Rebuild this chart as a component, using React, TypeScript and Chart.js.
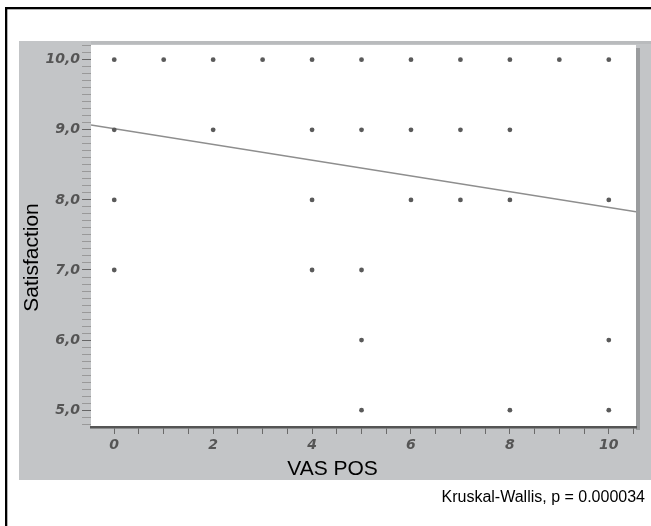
import React, { useEffect, useRef } from 'react';
import { Chart, registerables } from 'chart.js';

Chart.register(...registerables);

// ---- data ----
const vasPos = [
  0, 1, 2, 3, 4, 5, 6, 7, 8, 9, 10,
  0, 2, 4, 5, 6, 7, 8,
  0, 4, 6, 7, 8, 10,
  0, 4, 5,
  5, 10,
  5, 8, 10,
];
const satisfaction = [
  10, 10, 10, 10, 10, 10, 10, 10, 10, 10, 10,
  9, 9, 9, 9, 9, 9, 9,
  8, 8, 8, 8, 8, 8,
  7, 7, 7,
  6, 6,
  5, 5, 5,
];
// regression line end points
const trendX = [-0.47, 10.55];
const trendY = [9.07, 7.83];

// ---- axes ----
const xMin = -0.47;
const xMax = 10.55;
const yMin = 4.76;
const yMax = 10.21;
const xLabelValues = [0, 2, 4, 6, 8, 10];
const yLabelValues = [5, 6, 7, 8, 9, 10];
const xMinorStep = 0.5;
const yMinorStep = 0.1;
const xTickStart = 0;
const xTickEnd = 10.5;
const yTickStart = 4.8;
const yTickEnd = 10.2;

const xTitle = 'VAS POS';
const yTitle = 'Satisfaction';
const footnote = 'Kruskal-Wallis, p = 0.000034';

function tickList(start: number, end: number, step: number): number[] {
  const out: number[] = [];
  const n = Math.round((end - start) / step);
  for (let i = 0; i <= n; i++) out.push(Math.round((start + i * step) * 100) / 100);
  return out;
}

const isLabel = (v: number, list: number[]) => list.some((l) => Math.abs(l - v) < 1e-6);

const backgroundPlugin = {
  id: 'bgPanel',
  beforeDraw(chart: any) {
    const { ctx, chartArea } = chart;
    ctx.save();
    ctx.fillStyle = '#ffffff';
    ctx.fillRect(0, 0, chart.width, chart.height);
    // outer black frame
    ctx.fillStyle = '#000000';
    ctx.fillRect(5, 7, chart.width - 5, 2.3);
    ctx.fillRect(5, 7, 2.3, chart.height - 7);
    // grey panel
    ctx.fillStyle = '#c3c5c7';
    ctx.fillRect(19, 41, chart.width - 19, 480 - 41);
    ctx.fillStyle = '#b9bbbd';
    ctx.fillRect(91, 41, chart.width - 91, 3);
    // white plot
    ctx.fillStyle = '#ffffff';
    ctx.fillRect(chartArea.left, chartArea.top, chartArea.right - chartArea.left, chartArea.bottom - chartArea.top);
    // right shadow
    ctx.fillStyle = '#9a9c9e';
    ctx.fillRect(chartArea.right, chartArea.top + 3, 4, chartArea.bottom - chartArea.top);
    ctx.restore();
  },
  afterDraw(chart: any) {
    const { ctx } = chart;
    ctx.save();
    ctx.fillStyle = '#000000';
    ctx.font = '21px "Liberation Sans", Arial, sans-serif';
    ctx.textAlign = 'center';
    ctx.textBaseline = 'alphabetic';
    ctx.fillText(xTitle, 332.5, 475);
    ctx.save();
    ctx.translate(38, 257.5);
    ctx.rotate(-Math.PI / 2);
    ctx.fillText(yTitle, 0, 0);
    ctx.restore();
    ctx.font = '16px "Liberation Sans", Arial, sans-serif';
    ctx.textAlign = 'right';
    ctx.fillText(footnote, 645, 502);
    ctx.restore();
  },
};

export default function App() {
  const ref = useRef<HTMLCanvasElement | null>(null);

  useEffect(() => {
    if (!ref.current) return;
    const points = vasPos.map((x, i) => ({ x, y: satisfaction[i] }));
    const trend = trendX.map((x, i) => ({ x, y: trendY[i] }));
    const xTicks = tickList(xTickStart, xTickEnd, xMinorStep);
    const yTicks = tickList(yTickStart, yTickEnd, yMinorStep);
    const tickFont = { family: '"DejaVu Sans", sans-serif', style: 'italic' as const, weight: 'bold' as const, size: 14 };

    const chart = new Chart(ref.current, {
      type: 'scatter',
      data: {
        datasets: [
          {
            label: 'trend',
            data: trend,
            showLine: true,
            borderColor: '#8e8e8e',
            borderWidth: 1.5,
            pointRadius: 0,
            fill: false,
            order: 2,
          } as any,
          {
            label: 'patients',
            data: points,
            pointRadius: 2.4,
            pointBackgroundColor: '#5a5a5a',
            pointBorderWidth: 0,
            borderWidth: 0,
            order: 1,
          },
        ],
      },
      options: {
        responsive: false,
        animation: false,
        devicePixelRatio: 1,
        layout: { padding: { left: 19, top: 45, right: 15, bottom: 46 } },
        plugins: { legend: { display: false }, tooltip: { enabled: false } },
        scales: {
          x: {
            type: 'linear',
            min: xMin,
            max: xMax,
            afterFit: (s: any) => { s.height = 53; },
            afterBuildTicks: (s: any) => { s.ticks = xTicks.map((v) => ({ value: v })); },
            ticks: {
              autoSkip: false,
              maxRotation: 0,
              padding: 3,
              color: '#555555',
              font: tickFont,
              callback: (v: any) => (isLabel(Number(v), xLabelValues) ? String(Math.round(Number(v))) : ''),
            },
            grid: { drawOnChartArea: false, drawTicks: true, tickLength: 7, tickColor: '#6a6a6a', tickWidth: 1 },
            border: { display: true, color: '#555555', width: 2.5 },
          },
          y: {
            type: 'linear',
            min: yMin,
            max: yMax,
            afterFit: (s: any) => { s.width = 72; },
            afterBuildTicks: (s: any) => { s.ticks = yTicks.map((v) => ({ value: v })); },
            ticks: {
              autoSkip: false,
              padding: 2,
              color: '#555555',
              font: tickFont,
              callback: (v: any) => (isLabel(Number(v), yLabelValues) ? Number(v).toFixed(1).replace('.', ',') : ''),
            },
            grid: {
              drawOnChartArea: false,
              drawTicks: true,
              tickLength: 9,
              tickWidth: 1,
              tickColor: (c: any) => (c.tick && isLabel(c.tick.value, yLabelValues) ? '#666666' : '#999999'),
            },
            border: { display: false },
          },
        },
      },
      plugins: [backgroundPlugin],
    });
    return () => chart.destroy();
  }, []);

  return (
    <div style={{ position: 'absolute', left: 0, top: 0, width: 651, height: 526 }}>
      <canvas ref={ref} width={651} height={526} style={{ display: 'block', width: 651, height: 526 }} />
    </div>
  );
}
